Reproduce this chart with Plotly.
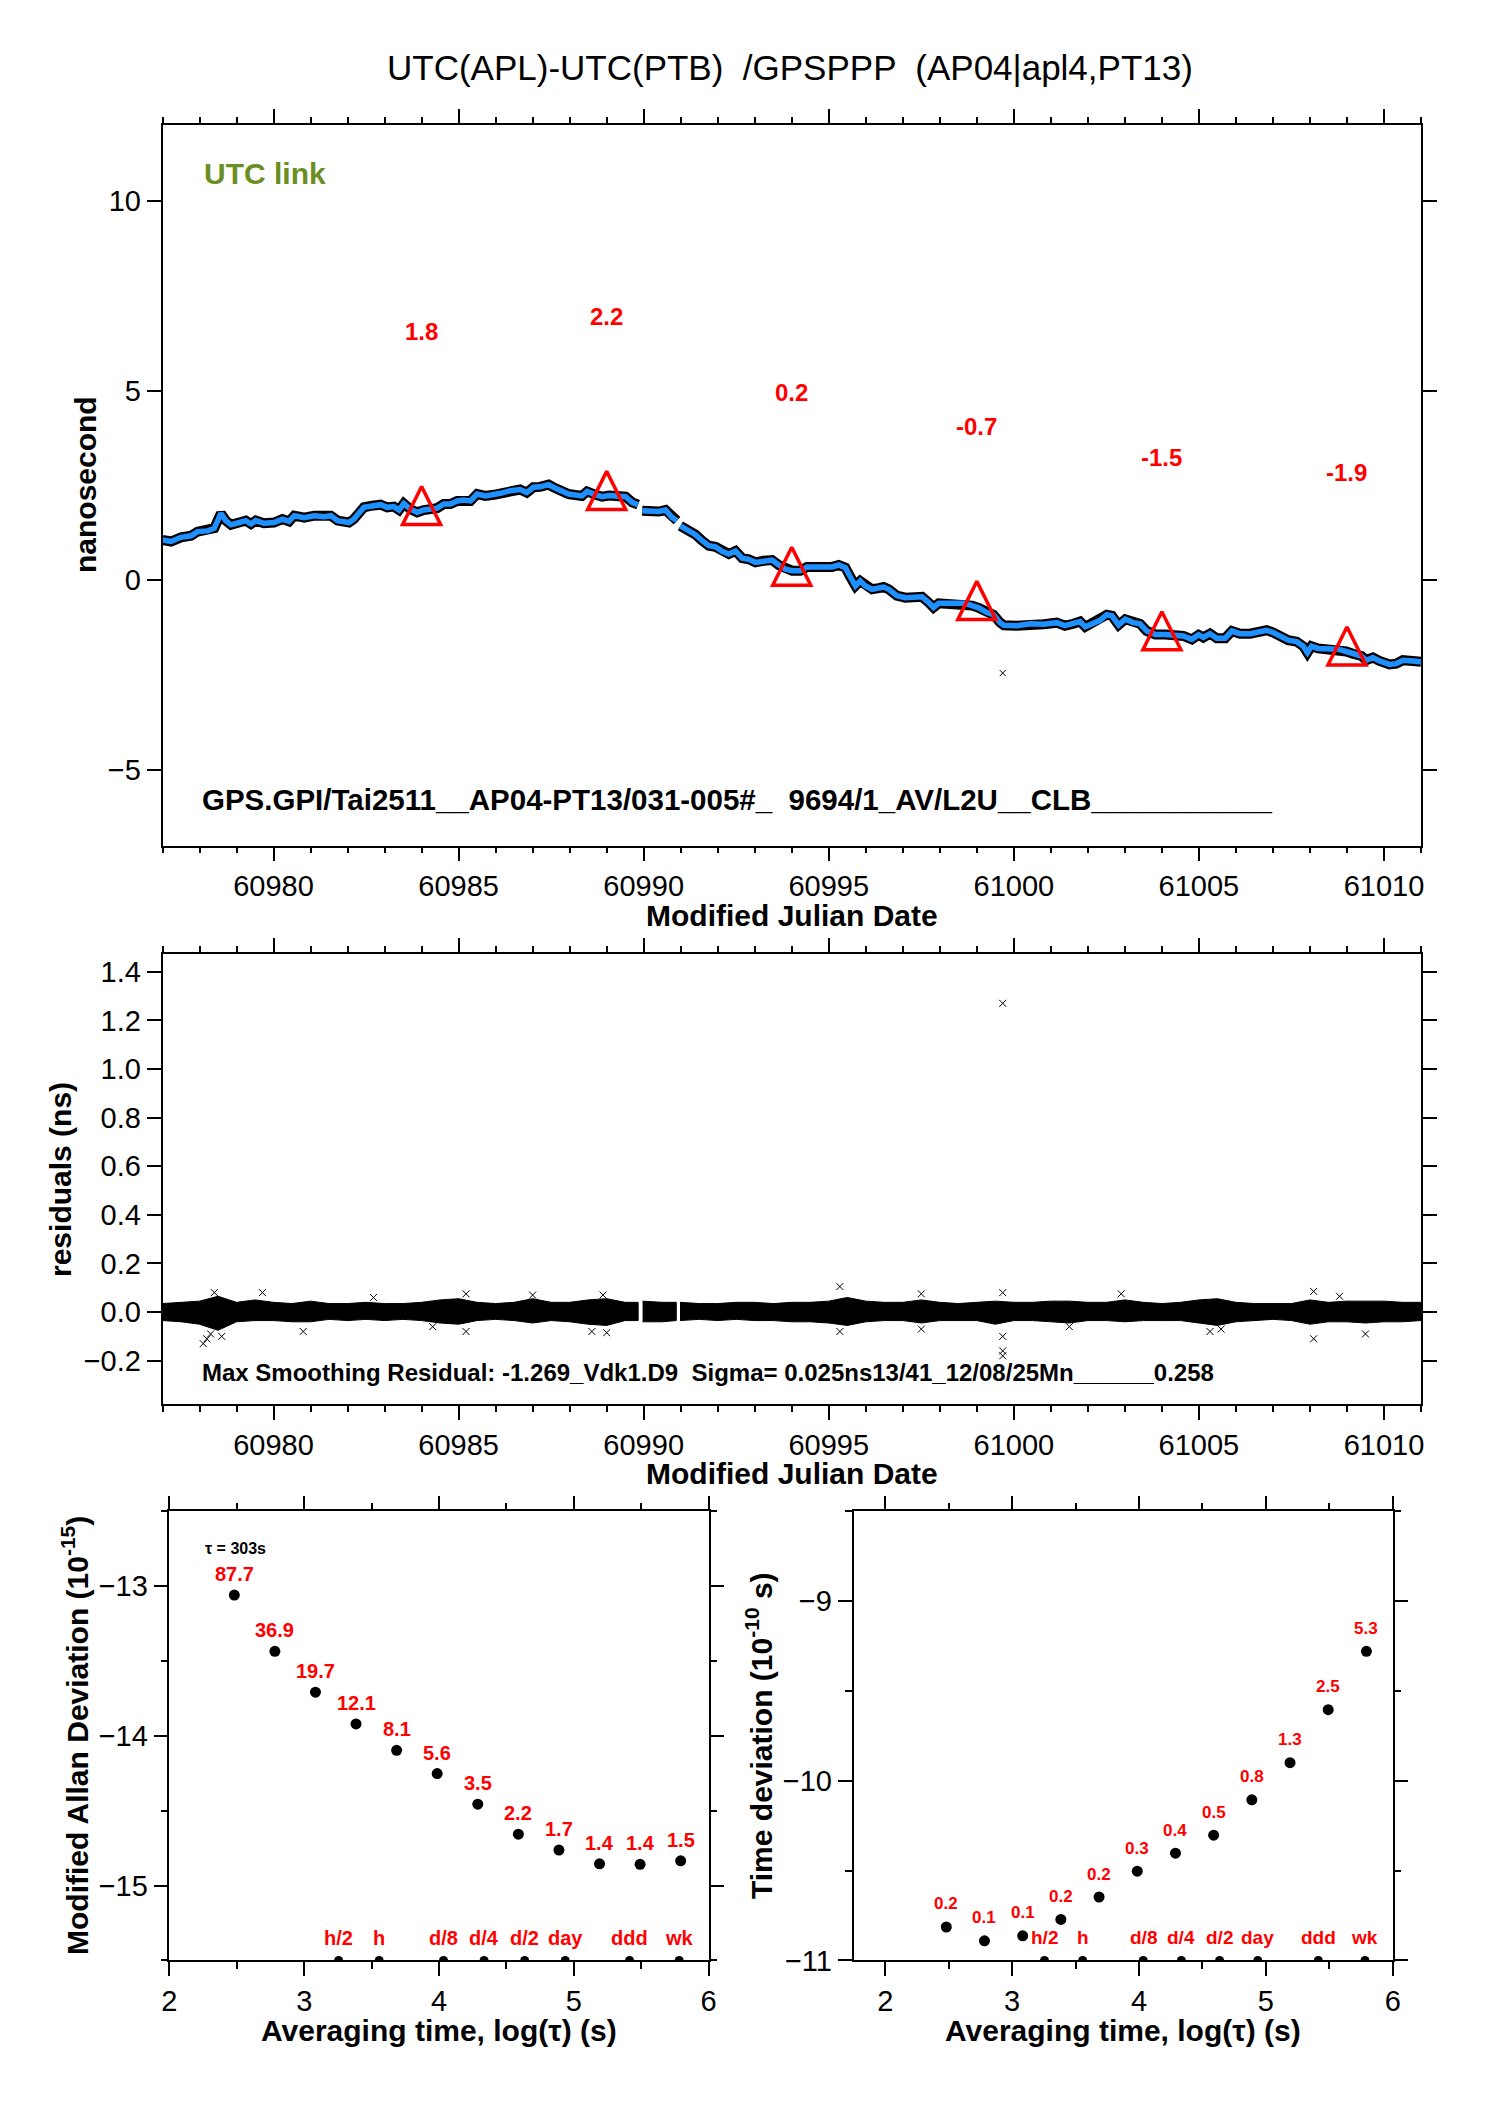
import math
import plotly.graph_objects as go

W, H = 1488, 2105
OFF = 8  # page body margin offset in pixels
FONT = "Liberation Sans, Arial, Helvetica, sans-serif"

# ---------------- top panel: UTC(APL)-UTC(PTB) ----------------
mjd = [60977.00, 60977.23, 60977.50, 60977.77, 60977.95, 60978.22, 60978.40, 60978.49, 60978.58, 60978.71,
       60978.85, 60979.07, 60979.25, 60979.39, 60979.52, 60979.74, 60980.01, 60980.24, 60980.42, 60980.56,
       60980.83, 60981.10, 60981.37, 60981.55, 60981.73, 60982.04, 60982.17, 60982.44, 60982.62, 60982.89,
       60983.07, 60983.25, 60983.39, 60983.52, 60983.70, 60983.88, 60984.06, 60984.24, 60984.42, 60984.60,
       60984.78, 60984.96, 60985.14, 60985.32, 60985.50, 60985.72, 60985.95, 60986.13, 60986.40, 60986.66,
       60986.84, 60987.02, 60987.20, 60987.43, 60987.56, 60987.74, 60987.97, 60988.33, 60988.47, 60988.70,
       60988.88, 60989.06, 60989.33, 60989.51, 60989.69, 60989.85, 60989.90, 60989.96, 60990.14, 60990.41,
       60990.59, 60990.77, 60990.90, 60990.94, 60990.99, 60991.22, 60991.40, 60991.58, 60991.76, 60991.94,
       60992.12, 60992.30, 60992.48, 60992.66, 60992.84, 60993.02, 60993.24, 60993.47, 60993.65, 60993.83,
       60994.01, 60994.23, 60994.41, 60994.64, 60994.86, 60995.09, 60995.27, 60995.45, 60995.58, 60995.72,
       60995.85, 60995.99, 60996.17, 60996.35, 60996.48, 60996.62, 60996.84, 60997.07, 60997.34, 60997.52,
       60997.70, 60997.83, 60997.97, 60998.24, 60998.51, 60998.69, 60998.87, 60999.05, 60999.27, 60999.45,
       60999.63, 60999.73, 61000.08, 61000.44, 61000.80, 61001.16, 61001.38, 61001.61, 61001.79, 61001.93,
       61002.15, 61002.33, 61002.51, 61002.65, 61002.83, 61003.01, 61003.23, 61003.41, 61003.59, 61003.82,
       61004.09, 61004.31, 61004.58, 61004.81, 61004.99, 61005.12, 61005.30, 61005.48, 61005.71, 61005.89,
       61006.11, 61006.38, 61006.61, 61006.83, 61007.01, 61007.19, 61007.41, 61007.64, 61007.82, 61007.93,
       61008.04, 61008.22, 61008.49, 61008.76, 61008.98, 61009.16, 61009.39, 61009.52, 61009.70, 61009.88,
       61010.15, 61010.33, 61010.51, 61010.78, 61011.00]
ns = [1.06, 1.02, 1.13, 1.17, 1.28, 1.30, 1.37, 1.57, 1.76, 1.57,
      1.46, 1.52, 1.57, 1.48, 1.57, 1.50, 1.52, 1.61, 1.55, 1.70,
      1.65, 1.70, 1.67, 1.70, 1.57, 1.52, 1.61, 1.92, 1.96, 1.99,
      1.92, 1.94, 1.85, 2.02, 1.87, 1.79, 1.85, 1.87, 1.90, 2.01,
      2.01, 2.09, 2.11, 2.09, 2.27, 2.22, 2.25, 2.29, 2.36, 2.39,
      2.31, 2.45, 2.46, 2.52, 2.45, 2.36, 2.27, 2.22, 2.34, 2.25,
      2.20, 2.23, 2.22, 2.20, 2.05, 1.99, None, 1.83, 1.81, 1.81,
      1.85, 1.65, 1.57, None, 1.43, 1.32, 1.20, 1.04, 0.91, 0.88,
      0.76, 0.69, 0.77, 0.58, 0.55, 0.47, 0.51, 0.53, 0.40, 0.29,
      0.25, 0.25, 0.35, 0.35, 0.32, 0.35, 0.40, 0.33, 0.09, -0.15,
      -0.02, -0.15, -0.24, -0.21, -0.18, -0.24, -0.41, -0.46, -0.46, -0.44,
      -0.59, -0.72, -0.61, -0.61, -0.63, -0.61, -0.67, -0.73, -0.85, -0.91,
      -1.12, -1.19, -1.20, -1.15, -1.16, -1.12, -1.20, -1.15, -1.09, -1.23,
      -1.12, -1.06, -0.91, -0.94, -1.18, -1.03, -1.12, -1.15, -1.34, -1.43,
      -1.43, -1.44, -1.47, -1.56, -1.44, -1.51, -1.41, -1.53, -1.53, -1.34,
      -1.41, -1.41, -1.36, -1.32, -1.38, -1.47, -1.58, -1.62, -1.74, -1.91,
      -1.74, -1.80, -1.82, -1.82, -1.88, -1.94, -2.00, -2.11, -2.04, -2.13,
      -2.22, -2.20, -2.11, -2.13, -2.15]
tri_mjd = [60984, 60989, 60994, 60999, 61004, 61009]
tri_val = [1.8, 2.2, 0.2, -0.7, -1.5, -1.9]
tri_lbl = ["1.8", "2.2", "0.2", "-0.7", "-1.5", "-1.9"]
out_mjd = [60999.70]
out_ns = [-2.45]

# ---------------- residuals ----------------
res_mjd = [60977.0, 60977.5, 60978.0, 60978.5, 60979.0, 60979.5, 60980.0, 60980.5, 60981.0, 60981.5,
           60982.0, 60982.5, 60983.0, 60983.5, 60984.0, 60984.5, 60985.0, 60985.5, 60986.0, 60986.5,
           60987.0, 60987.5, 60988.0, 60988.5, 60989.0, 60989.5, 60989.85, None,
           60989.97, 60990.5, 60990.88, None,
           60990.98, 60991.5, 60992.0, 60992.5, 60993.0, 60993.5, 60994.0, 60994.5, 60995.0, 60995.5,
           60996.0, 60996.5, 60997.0, 60997.5, 60998.0, 60998.5, 60999.0, 60999.5, 61000.0, 61000.5,
           61001.0, 61001.5, 61002.0, 61002.5, 61003.0, 61003.5, 61004.0, 61004.5, 61005.0, 61005.5,
           61006.0, 61006.5, 61007.0, 61007.5, 61008.0, 61008.5, 61009.0, 61009.5, 61010.0, 61010.5, 61011.0]
res_hi = [0.035, 0.040, 0.045, 0.065, 0.040, 0.050, 0.040, 0.035, 0.045, 0.035,
          0.035, 0.040, 0.035, 0.035, 0.040, 0.050, 0.055, 0.040, 0.035, 0.040,
          0.055, 0.040, 0.040, 0.050, 0.055, 0.040, 0.040, None,
          0.045, 0.040, 0.040, None,
          0.040, 0.035, 0.035, 0.040, 0.040, 0.035, 0.040, 0.040, 0.045, 0.060,
          0.045, 0.040, 0.040, 0.050, 0.040, 0.035, 0.040, 0.045, 0.040, 0.040,
          0.045, 0.045, 0.040, 0.040, 0.050, 0.040, 0.035, 0.040, 0.050, 0.055,
          0.040, 0.035, 0.035, 0.035, 0.050, 0.040, 0.045, 0.045, 0.045, 0.040, 0.040]
res_lo = [-0.035, -0.040, -0.050, -0.075, -0.040, -0.035, -0.035, -0.040, -0.040, -0.030,
          -0.035, -0.030, -0.035, -0.030, -0.035, -0.045, -0.050, -0.035, -0.030, -0.035,
          -0.045, -0.035, -0.040, -0.050, -0.055, -0.035, -0.035, None,
          -0.040, -0.040, -0.035, None,
          -0.035, -0.030, -0.035, -0.030, -0.035, -0.035, -0.040, -0.040, -0.045, -0.055,
          -0.040, -0.035, -0.035, -0.045, -0.035, -0.035, -0.035, -0.050, -0.035, -0.035,
          -0.040, -0.045, -0.035, -0.035, -0.040, -0.035, -0.035, -0.035, -0.045, -0.055,
          -0.040, -0.035, -0.030, -0.035, -0.050, -0.040, -0.040, -0.045, -0.040, -0.040, -0.035]
spike_mjd = [60978.1, 60978.2, 60978.3, 60978.4, 60978.6, 60979.7, 60980.8, 60982.7, 60984.3, 60985.2,
             60985.2, 60987.0, 60988.6, 60988.9, 60989.0, 60995.3, 60995.3, 60997.5, 60997.5, 60999.7,
             60999.7, 60999.7, 60999.7, 60999.7, 61001.5, 61002.9, 61005.3, 61005.6, 61008.1, 61008.1,
             61008.8, 61009.5]
spike_val = [-0.13, -0.11, -0.09, 0.08, -0.10, 0.08, -0.08, 0.06, -0.06, 0.075,
             -0.08, 0.07, -0.08, 0.07, -0.085, 0.105, -0.08, 0.075, -0.07, 1.27,
             0.08, -0.10, -0.16, -0.18, -0.06, 0.075, -0.08, -0.07, 0.085, -0.11,
             0.065, -0.09]

# ---------------- stability panels ----------------
tau = [303, 606, 1212, 2424, 4848, 9696, 19392, 38784, 77568, 155136, 310272, 620544]
adev_log = [-13.059, -13.435, -13.708, -13.920, -14.096, -14.252, -14.456, -14.657, -14.763, -14.855, -14.858, -14.835]
adev_lbl = ["87.7", "36.9", "19.7", "12.1", "8.1", "5.6", "3.5", "2.2", "1.7", "1.4", "1.4", "1.5"]
tdev_log = [-10.814, -10.891, -10.863, -10.772, -10.647, -10.503, -10.403, -10.303, -10.106, -9.899, -9.604, -9.279]
tdev_lbl = ["0.2", "0.1", "0.1", "0.2", "0.2", "0.3", "0.4", "0.5", "0.8", "1.3", "2.5", "5.3"]
mark_tau = [1800, 3600, 10800, 21600, 43200, 86400, 259200, 604800]
mark_lbl = ["h/2", "h", "d/8", "d/4", "d/2", "day", "ddd", "wk"]

ADEV_RANGE = [-15.5, -12.5]
TDEV_RANGE = [-11, -8.5]
TOP_RANGE = [-7, 12]
TOP_PX = (125, 845.7)  # top and bottom pixel rows of the top panel

logtau = [math.log10(t) for t in tau]
logmark = [math.log10(t) for t in mark_tau]


def px(x):
    return (x - OFF) / W


def py(y):
    return 1 - (y - OFF) / H


fig = go.Figure()

# top panel
fig.add_trace(go.Scatter(x=mjd, y=ns, mode="lines", line=dict(color="black", width=10),
                         connectgaps=False, xaxis="x", yaxis="y", hoverinfo="skip"))
fig.add_trace(go.Scatter(x=mjd, y=ns, mode="lines", line=dict(color="#1E90FF", width=5.5),
                         connectgaps=False, xaxis="x", yaxis="y"))
fig.add_trace(go.Scatter(x=out_mjd, y=out_ns, mode="markers",
                         marker=dict(symbol="x-thin", size=6, line=dict(color="black", width=1)),
                         xaxis="x", yaxis="y"))
# arrow-up marker has its tip at the data point; lift it so the centroid sits on the value
TRI_SIZE = 38
px_per_ns = (TOP_PX[1] - TOP_PX[0]) / (TOP_RANGE[1] - TOP_RANGE[0])
lift = (TRI_SIZE * 2 / 3) / px_per_ns
fig.add_trace(go.Scatter(x=tri_mjd, y=[v + lift for v in tri_val], mode="markers",
                         marker=dict(symbol="arrow-up-open", size=TRI_SIZE, color="red", angle=0,
                                     line=dict(color="red", width=3.5)),
                         xaxis="x", yaxis="y"))

# residual band, split into segments at data gaps
seg_x, seg_hi, seg_lo = [], [], []
segments = []
for xv, hv, lv in zip(res_mjd, res_hi, res_lo):
    if xv is None:
        segments.append((seg_x, seg_hi, seg_lo))
        seg_x, seg_hi, seg_lo = [], [], []
    else:
        seg_x.append(xv); seg_hi.append(hv); seg_lo.append(lv)
segments.append((seg_x, seg_hi, seg_lo))
for sx, sh, sl in segments:
    fig.add_trace(go.Scatter(x=sx + sx[::-1], y=sh + sl[::-1], mode="lines", fill="toself",
                             fillcolor="black", line=dict(color="black", width=1),
                             xaxis="x2", yaxis="y2", hoverinfo="skip"))
fig.add_trace(go.Scatter(x=spike_mjd, y=spike_val, mode="markers",
                         marker=dict(symbol="x-thin", size=7, line=dict(color="black", width=1)),
                         xaxis="x2", yaxis="y2"))

# ADEV
fig.add_trace(go.Scatter(x=logtau, y=adev_log, mode="markers",
                         marker=dict(symbol="circle", size=11, color="black"),
                         xaxis="x3", yaxis="y3"))
fig.add_trace(go.Scatter(x=logmark, y=[ADEV_RANGE[0]] * len(logmark), mode="markers",
                         marker=dict(symbol="circle", size=9, color="black"),
                         xaxis="x3", yaxis="y3"))
# TDEV
fig.add_trace(go.Scatter(x=logtau, y=tdev_log, mode="markers",
                         marker=dict(symbol="circle", size=11, color="black"),
                         xaxis="x4", yaxis="y4"))
fig.add_trace(go.Scatter(x=logmark, y=[TDEV_RANGE[0]] * len(logmark), mode="markers",
                         marker=dict(symbol="circle", size=9, color="black"),
                         xaxis="x4", yaxis="y4"))


def axis(**kw):
    d = dict(showline=True, linecolor="black", linewidth=1.5, mirror="ticks", ticks="outside",
             ticklen=14, tickwidth=2, tickcolor="black", showgrid=False, zeroline=False,
             automargin=False, tickfont=dict(family=FONT, size=29, color="black"))
    d.update(kw)
    return d


minor_mjd = dict(dtick=1, ticklen=6, tickwidth=1.5, tickcolor="black", ticks="outside", showgrid=False)
minor_half = dict(dtick=0.5, ticklen=7, tickwidth=1.5, tickcolor="black", ticks="outside", showgrid=False)

fig.update_layout(
    width=W, height=H, margin=dict(l=0, r=0, t=0, b=0, pad=0, autoexpand=False),
    paper_bgcolor="white", plot_bgcolor="white", showlegend=False,
    font=dict(family=FONT, size=28, color="black"),
    xaxis=axis(domain=[px(162.5), px(1421)], range=[60977, 61011], tick0=60980, dtick=5,
               tickformat="d", minor=minor_mjd, anchor="y"),
    yaxis=axis(domain=[py(TOP_PX[1]), py(TOP_PX[0])], range=TOP_RANGE, tick0=0, dtick=5, anchor="x"),
    xaxis2=axis(domain=[px(162.5), px(1421)], range=[60977, 61011], tick0=60980, dtick=5,
                tickformat="d", minor=minor_mjd, anchor="y2"),
    yaxis2=axis(domain=[py(1404.2), py(953.5)], range=[-0.379, 1.475], tick0=0, dtick=0.2,
                tickformat=".1f", anchor="x2"),
    xaxis3=axis(domain=[px(169.4), px(708.6)], range=[2, 6], tick0=2, dtick=1, minor=minor_half,
                anchor="y3"),
    yaxis3=axis(domain=[py(1960.4), py(1511.4)], range=ADEV_RANGE, tick0=-15, dtick=1,
                minor=minor_half, anchor="x3"),
    xaxis4=axis(domain=[px(853.5), px(1392.7)], range=[1.75, 6], tick0=2, dtick=1, minor=minor_half,
                anchor="y4"),
    yaxis4=axis(domain=[py(1960.4), py(1511.4)], range=TDEV_RANGE, tick0=-11, dtick=1,
                minor=minor_half, anchor="x4"),
)

ann = []


def paper_text(text, x, y, size, angle=0, color="black", bold=True):
    ann.append(dict(text=("<b>%s</b>" % text) if bold else text, x=px(x), y=py(y), xref="paper", yref="paper",
                    xanchor="center", yanchor="middle", showarrow=False, textangle=angle,
                    font=dict(family=FONT, size=size, color=color)))


paper_text("UTC(APL)-UTC(PTB)  /GPSPPP  (AP04|apl4,PT13)", 790, 67, 35, bold=False)
paper_text("nanosecond", 85, 485, 30, angle=-90)
paper_text("Modified Julian Date", 791.75, 915, 30)
paper_text("residuals (ns)", 60, 1179, 30, angle=-90)
paper_text("Modified Julian Date", 791.75, 1473, 30)
paper_text("Modified Allan Deviation (10<sup>-15</sup>)", 75, 1736, 30, angle=-90)
paper_text("Time deviation (10<sup>-10</sup> s)", 759, 1736, 30, angle=-90)
paper_text("Averaging time, log(τ) (s)", 439, 2030.6, 30)
paper_text("Averaging time, log(τ) (s)", 1123, 2030.6, 30)

ann.append(dict(text="<b>UTC link</b>", x=60978.07, y=10.73, xref="x", yref="y", xanchor="left",
                yanchor="middle", showarrow=False, font=dict(family=FONT, size=30, color="#6B8E23")))
ann.append(dict(text="<b>GPS.GPI/Tai2511__AP04-PT13/031-005#_  9694/1_AV/L2U__CLB___________</b>",
                x=60978.01, y=-5.78, xref="x", yref="y", xanchor="left", yanchor="middle",
                showarrow=False, font=dict(family=FONT, size=29.5, color="black")))
for xv, yv, t in zip(tri_mjd, tri_val, tri_lbl):
    ann.append(dict(text="<b>%s</b>" % t, x=xv, y=yv, xref="x", yref="y", yshift=180,
                    xanchor="center", yanchor="middle", showarrow=False,
                    font=dict(family=FONT, size=24, color="red")))

ann.append(dict(text="<b>Max Smoothing Residual: -1.269_Vdk1.D9  Sigma= 0.025ns13/41_12/08/25Mn______0.258</b>",
                x=60978.01, y=-0.25, xref="x2", yref="y2", xanchor="left", yanchor="middle",
                showarrow=False, font=dict(family=FONT, size=24, color="black")))

ann.append(dict(text="<b>τ = 303s</b>", x=2.25, y=-12.749, xref="x3", yref="y3", xanchor="left",
                yanchor="middle", showarrow=False, font=dict(family=FONT, size=16, color="black")))
for xv, yv, t in zip(logtau, adev_log, adev_lbl):
    ann.append(dict(text="<b>%s</b>" % t, x=xv, y=yv, xref="x3", yref="y3", yshift=21,
                    xanchor="center", yanchor="middle", showarrow=False,
                    font=dict(family=FONT, size=20, color="red")))
for xv, t in zip(logmark, mark_lbl):
    ann.append(dict(text="<b>%s</b>" % t, x=xv, y=ADEV_RANGE[0], xref="x3", yref="y3", yshift=22,
                    xanchor="center", yanchor="middle", showarrow=False,
                    font=dict(family=FONT, size=20, color="red")))
for xv, yv, t in zip(logtau, tdev_log, tdev_lbl):
    ann.append(dict(text="<b>%s</b>" % t, x=xv, y=yv, xref="x4", yref="y4", yshift=23,
                    xanchor="center", yanchor="middle", showarrow=False,
                    font=dict(family=FONT, size=17, color="red")))
for xv, t in zip(logmark, mark_lbl):
    ann.append(dict(text="<b>%s</b>" % t, x=xv, y=TDEV_RANGE[0], xref="x4", yref="y4", yshift=23,
                    xanchor="center", yanchor="middle", showarrow=False,
                    font=dict(family=FONT, size=19, color="red")))

fig.update_layout(annotations=ann)
fig.write_html("out.html")
